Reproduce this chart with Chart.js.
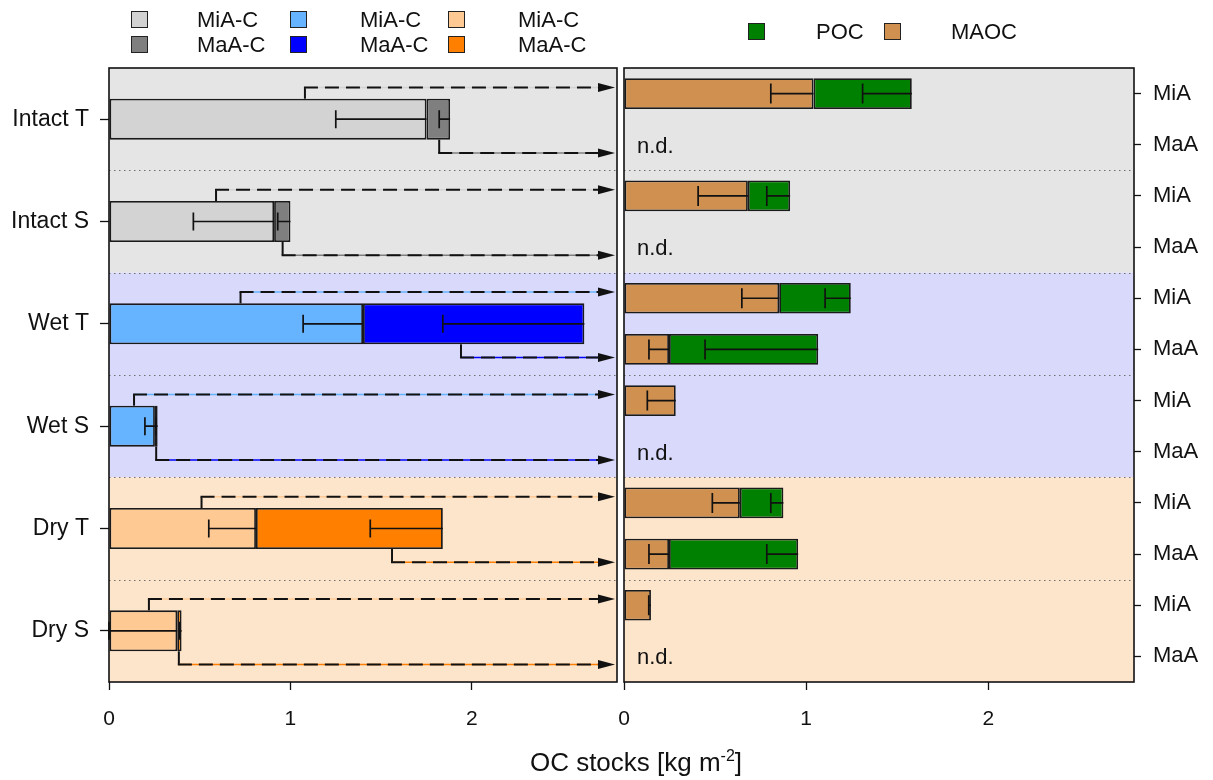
<!DOCTYPE html>
<html lang="en">
<head>
<meta charset="UTF-8">
<title>OC stocks</title>
<style>
  body { margin: 0; background: #fff; font-family: "Liberation Sans", Arial, sans-serif; }
  #wrap { position: relative; width: 1213px; height: 780px; overflow: hidden; }
  canvas { position: absolute; top: 0; display: block; }
  #leftChart { left: 0; }
  #rightChart { left: 600px; }
  .key { position: absolute; width: 15px; height: 15px; border: 1.5px solid #222; }
  .lab { position: absolute; font-size: 22px; line-height: 22px; color: #111; white-space: nowrap; }
  #xtitle { position: absolute; left: 0; width: 1272px; top: 747px; text-align: center; font-size: 26px; color: #111; }
  #xtitle sup { font-size: 16px; vertical-align: 10px; line-height: 0; }
</style>
</head>
<body>
<div id="wrap">
  <canvas id="leftChart" width="620" height="780"></canvas>
  <canvas id="rightChart" width="613" height="780"></canvas>
  <div id="legend"></div>
  <div id="xtitle">OC stocks [kg m<sup>-2</sup>]</div>
</div>

<script src="https://cdn.jsdelivr.net/npm/chart.js"></script>
<script>
    // left panel: total OC per aggregate class
    const groups = ['Intact T', 'Intact S', 'Wet T', 'Wet S', 'Dry T', 'Dry S'];
    const miaC = [1.75, 0.91, 1.40, 0.253, 0.81, 0.376];
    const maaC = [0.13, 0.09, 1.22, 0.015, 1.03, 0.024];
    const miaCErr = [0.50, 0.445, 0.33, 0.055, 0.26, 0.376];
    const maaCErr = [0.06, 0.07, 0.78, 0.01, 0.40, 0.01];
    // where the arrows leave the bars (kg m-2)
    const arrowMiA = [1.08, 0.59, 0.725, 0.138, 0.51, 0.22];
    const arrowMaA = [1.82, 0.957, 1.94, 0.26, 1.56, 0.385];

    // right panel: fractions, two rows per group
    const subRows = ['MiA', 'MaA', 'MiA', 'MaA', 'MiA', 'MaA', 'MiA', 'MaA', 'MiA', 'MaA', 'MiA', 'MaA'];
    const maoc = [1.04, null, 0.68, null, 0.852, 0.247, 0.284, null, 0.636, 0.247, 0.148, null];
    const poc = [0.54, null, 0.232, null, 0.393, 0.819, null, null, 0.239, 0.709, null, null];
    const maocErr = [0.234, null, 0.273, null, 0.205, 0.11, 0.156, null, 0.151, 0.11, 0.012, null];
    const pocErr = [0.27, null, 0.128, null, 0.141, 0.621, null, null, 0.069, 0.172, null, null];

    const xTicks = [0, 1, 2];

    // colours
    const miaColors = ['#d3d3d3', '#d3d3d3', '#66b3ff', '#66b3ff', '#ffc994', '#ffc994'];
    const maaColors = ['#7f7f7f', '#7f7f7f', '#0000ff', '#0000ff', '#ff8000', '#ff8000'];
    const bandColors = ['#e5e5e5', '#d9d9fb', '#fde5cc'];
    const maocColor = '#d09050';
    const pocColor = '#008000';

    const fontFamily = '"Liberation Sans", Arial, sans-serif';
    Chart.defaults.font.family = fontFamily;
    Chart.defaults.color = '#111';

    // background bands + dotted separators
    function bandsPlugin(bands, dividers) {
        return {
            id: 'bands',
            beforeDatasetsDraw(chart) {
                const { ctx, chartArea: a, scales: { y } } = chart;
                ctx.save();
                bands.forEach((b, k) => {
                    const y0 = y.getPixelForValue(b[0] - 0.5);
                    const y1 = y.getPixelForValue(b[1] + 0.5);
                    ctx.fillStyle = bandColors[k];
                    ctx.fillRect(a.left, Math.min(y0, y1), a.right - a.left, Math.abs(y1 - y0));
                });
                ctx.strokeStyle = '#6f6f6f';
                ctx.lineWidth = 1;
                ctx.setLineDash([1.5, 3.5]);
                dividers.forEach(d => {
                    const yy = Math.round(y.getPixelForValue(d)) + 0.5;
                    ctx.beginPath();
                    ctx.moveTo(a.left, yy);
                    ctx.lineTo(a.right, yy);
                    ctx.stroke();
                });
                ctx.restore();
            }
        };
    }

    // one-sided error bars at the end of each stacked segment
    const errorPlugin = {
        id: 'errs',
        afterDatasetsDraw(chart, args, opts) {
            const { ctx, scales: { x } } = chart;
            ctx.save();
            ctx.strokeStyle = '#111';
            ctx.lineWidth = 1.7;
            chart.data.datasets.forEach((ds, d) => {
                const meta = chart.getDatasetMeta(d);
                ds.data.forEach((v, i) => {
                    const e = ds.errors[i];
                    if (v == null || e == null) return;
                    let cum = 0;
                    for (let k = 0; k <= d; k++) cum += chart.data.datasets[k].data[i] || 0;
                    const yc = meta.data[i].y;
                    const xe = x.getPixelForValue(cum);
                    const xl = x.getPixelForValue(cum - e);
                    ctx.beginPath();
                    ctx.moveTo(xl, yc);
                    ctx.lineTo(xe, yc);
                    ctx.moveTo(xl, yc - opts.cap);
                    ctx.lineTo(xl, yc + opts.cap);
                    ctx.stroke();
                });
            });
            ctx.restore();
        }
    };

    const framePlugin = {
        id: 'frame',
        afterDraw(chart) {
            const { ctx, chartArea: a } = chart;
            ctx.save();
            ctx.strokeStyle = '#111';
            ctx.lineWidth = 1.6;
            ctx.strokeRect(a.left, a.top, a.right - a.left, a.bottom - a.top);
            ctx.restore();
        }
    };

    // dashed arrows from the left bars towards the right panel
    const arrowPlugin = {
        id: 'arrows',
        afterDatasetsDraw(chart) {
            const { ctx, chartArea: a, scales: { x, y } } = chart;
            const meta = chart.getDatasetMeta(0);
            const tip = a.right - 2;
            function arrow(xs, y0, y1, col) {
                ctx.setLineDash([]);
                ctx.strokeStyle = '#111';
                ctx.lineWidth = 2;
                ctx.beginPath();
                ctx.moveTo(xs, y0);
                ctx.lineTo(xs, y1);
                ctx.stroke();
                ctx.strokeStyle = col;
                ctx.lineWidth = 1.5;
                ctx.beginPath();
                ctx.moveTo(xs, y1);
                ctx.lineTo(tip - 14, y1);
                ctx.stroke();
                ctx.strokeStyle = '#111';
                ctx.lineWidth = 2;
                ctx.setLineDash([14, 7]);
                ctx.beginPath();
                ctx.moveTo(xs - 1, y1);
                ctx.lineTo(tip - 14, y1);
                ctx.stroke();
                ctx.setLineDash([]);
                ctx.fillStyle = '#111';
                ctx.beginPath();
                ctx.moveTo(tip, y1);
                ctx.lineTo(tip - 17, y1 - 4.5);
                ctx.lineTo(tip - 17, y1 + 4.5);
                ctx.closePath();
                ctx.fill();
            }
            ctx.save();
            groups.forEach((g, i) => {
                const bar = meta.data[i];
                const top = bar.y - bar.height / 2;
                const bot = bar.y + bar.height / 2;
                arrow(x.getPixelForValue(arrowMiA[i]), top, y.getPixelForValue(i - 0.31), miaColors[i]);
                arrow(x.getPixelForValue(arrowMaA[i]), bot, y.getPixelForValue(i + 0.33), maaColors[i]);
            });
            ctx.restore();
        }
    };

    // "n.d." where no fractionation data exist
    const ndPlugin = {
        id: 'nd',
        afterDatasetsDraw(chart) {
            const { ctx, scales: { x, y } } = chart;
            ctx.save();
            ctx.fillStyle = '#111';
            ctx.font = '22px ' + fontFamily;
            ctx.textBaseline = 'middle';
            maoc.forEach((v, i) => {
                if (v == null) ctx.fillText('n.d.', x.getPixelForValue(0) + 13, y.getPixelForValue(i) + 2);
            });
            ctx.restore();
        }
    };

    const tickFont = { size: 21, family: fontFamily };
    const rowFont = { size: 22, family: fontFamily };
    const barStyle = { borderWidth: 1.8, borderColor: '#1a1a1a', borderSkipped: false, categoryPercentage: 1 };

    function xScale() {
        return {
            type: 'linear', stacked: true, min: 0, max: 2.8,
            afterFit: s => { s.height = 98; s.paddingLeft = 0; s.paddingRight = 0; },
            afterBuildTicks: s => { s.ticks = xTicks.map(v => ({ value: v })); },
            ticks: { font: tickFont, padding: 17, color: '#111' },
            grid: { drawOnChartArea: false, tickLength: 8, tickColor: '#111', tickWidth: 1.3 },
            border: { display: false }
        };
    }

    new Chart(document.getElementById('leftChart'), {
        type: 'bar',
        data: {
            labels: groups,
            datasets: [
                { label: 'MiA-C', data: miaC, errors: miaCErr, backgroundColor: miaColors, barPercentage: 0.4, ...barStyle },
                { label: 'MaA-C', data: maaC, errors: maaCErr, backgroundColor: maaColors, barPercentage: 0.4, ...barStyle }
            ]
        },
        options: {
            indexAxis: 'y', responsive: false, animation: false, devicePixelRatio: 1,
            layout: { padding: { top: 68, right: 3, left: 0, bottom: 0 } },
            scales: {
                x: xScale(),
                y: {
                    type: 'category', stacked: true,
                    afterFit: s => { s.width = 109; },
                    ticks: { font: { size: 23, family: fontFamily }, padding: 11, color: '#111' },
                    grid: { offset: false, drawOnChartArea: false, tickLength: 9, tickColor: '#111', tickWidth: 1.3 },
                    border: { display: false }
                }
            },
            plugins: { legend: { display: false }, tooltip: { enabled: false }, errs: { cap: 9 } }
        },
        plugins: [bandsPlugin([[0, 1], [2, 3], [4, 5]], [0.5, 1.5, 2.5, 3.5, 4.5]), errorPlugin, arrowPlugin, framePlugin]
    });

    new Chart(document.getElementById('rightChart'), {
        type: 'bar',
        data: {
            labels: subRows,
            datasets: [
                { label: 'MAOC', data: maoc, errors: maocErr, backgroundColor: maocColor, barPercentage: 0.6, ...barStyle },
                { label: 'POC', data: poc, errors: pocErr, backgroundColor: pocColor, barPercentage: 0.6, ...barStyle }
            ]
        },
        options: {
            indexAxis: 'y', responsive: false, animation: false, devicePixelRatio: 1,
            layout: { padding: { top: 68, right: 0, left: 24, bottom: 0 } },
            scales: {
                x: xScale(),
                y: {
                    type: 'category', stacked: true, position: 'right',
                    afterFit: s => { s.width = 79; },
                    ticks: { font: rowFont, padding: 12, color: '#111' },
                    grid: { offset: false, drawOnChartArea: false, tickLength: 7, tickColor: '#111', tickWidth: 1.3 },
                    border: { display: false }
                }
            },
            plugins: { legend: { display: false }, tooltip: { enabled: false }, errs: { cap: 10 } }
        },
        plugins: [bandsPlugin([[0, 3], [4, 7], [8, 11]], [1.5, 3.5, 5.5, 7.5, 9.5]), errorPlugin, ndPlugin, framePlugin]
    });

    // legends (HTML, positioned like the original)
    const legend = document.getElementById('legend');
    function key(cx, cy, color, text, tx) {
        const k = document.createElement('div');
        k.className = 'key';
        k.style.left = (cx - 9) + 'px';
        k.style.top = (cy - 9) + 'px';
        k.style.background = color;
        legend.appendChild(k);
        const l = document.createElement('div');
        l.className = 'lab';
        l.style.left = tx + 'px';
        l.style.top = (cy - 11) + 'px';
        l.textContent = text;
        legend.appendChild(l);
    }
    const keyCols = [[140, 197], [299, 360], [457, 518]];
    keyCols.forEach((c, j) => {
        key(c[0], 20, miaColors[j * 2], 'MiA-C', c[1]);
        key(c[0], 45, maaColors[j * 2], 'MaA-C', c[1]);
    });
    key(757, 32, pocColor, 'POC', 816);
    key(893, 32, maocColor, 'MAOC', 951);
</script>
</body>
</html>
